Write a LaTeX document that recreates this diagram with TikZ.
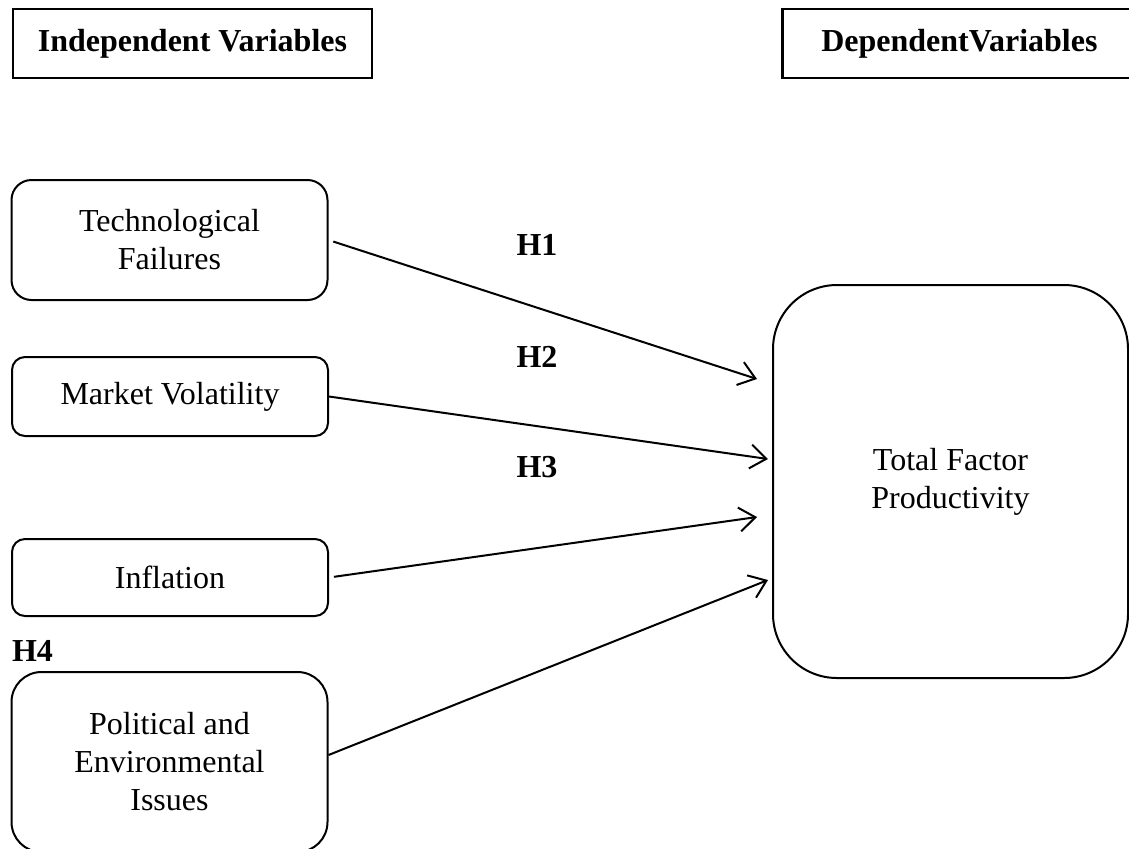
\documentclass[tikz,border=0pt]{standalone}
\usepackage{fontspec}
\setmainfont{Liberation Serif}
\usetikzlibrary{positioning,calc,arrows.meta}
\tikzset{headbox/.style={draw, line width=1.3pt, inner sep=0pt, font=\bfseries}}
\tikzset{varbox/.style={draw, line width=1pt, inner sep=0pt, align=center, minimum width=158pt}}
\tikzset{hlab/.style={font=\bfseries, inner sep=0pt}}
\tikzset{arr/.style={draw, line width=1pt, -{Straight Barb[length=8pt,width=12pt,line width=1pt]}}}

\begin{document}
\fontsize{16}{19}\selectfont
\begin{tikzpicture}[x=0.5pt, y=-0.5pt]
    \clip (0,0) rectangle (1129,848);
    % headings
    \node[headbox, minimum width=179.5pt, minimum height=34.5pt] (indep) at (192.5,43.5) {Independent Variables};
    \node[headbox, anchor=west, minimum height=34.5pt, text width=140pt, align=left, inner xsep=19.5pt] (dep) at (781,43.5) {DependentVariables};
    % variables
    \node[varbox, minimum height=60pt, rounded corners=10pt] (tech) at (169.5,240) {Technological\\Failures};
    \node[varbox, minimum height=39.5pt, rounded corners=6.5pt] (mkt) at (170,396.5) {Market Volatility};
    \node[varbox, minimum height=38.5pt, rounded corners=6.5pt] (infl) at (170,577.5) {Inflation};
    \node[varbox, minimum height=90pt, rounded corners=15pt] (pol) at (169.5,762) {Political and\\Environmental\\Issues};
    \node[varbox, minimum width=177.5pt, minimum height=196.5pt, rounded corners=32pt] (tfp) at (950.5,481.5) {Total Factor\\Productivity};
    % arrow ends
    \coordinate (e1) at ([xshift=-7.5pt, yshift=51.25pt]tfp.west);
    \coordinate (e2) at ([xshift=-2pt, yshift=11.25pt]tfp.west);
    \coordinate (e3) at ([xshift=-7.5pt, yshift=-17.75pt]tfp.west);
    \coordinate (e4) at ([xshift=-2pt, yshift=-49.25pt]tfp.west);
    \draw[arr, shorten <=2.5pt] (tech.east) -- (e1);
    \draw[arr] (mkt.east) -- (e2);
    \draw[arr, shorten <=2.5pt] (infl.east) -- (e3);
    \draw[arr] ([yshift=3.5pt]pol.east) -- (e4);
    % hypotheses
    \node[hlab] (h1) at (537,245) {H1};
    \node[hlab] (h2) at (537,357) {H2};
    \node[hlab] (h3) at (537,467) {H3};
    \node[hlab] (h4) at (32.5,651) {H4};
\end{tikzpicture}
\end{document}
